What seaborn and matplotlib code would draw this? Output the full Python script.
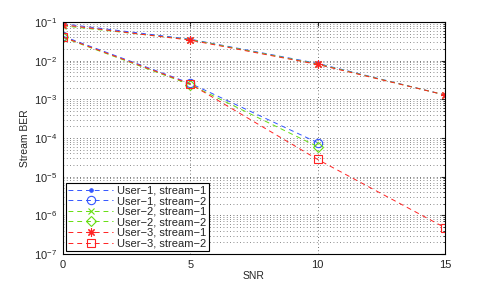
import matplotlib
matplotlib.use("Agg")
import matplotlib.pyplot as plt
import seaborn as sns
import numpy as np
import pandas as pd
from matplotlib.ticker import FixedLocator, NullFormatter, LogFormatterMathtext

snr_s1 = [0, 5, 10, 15]
u1_s1 = [0.090, 0.036, 0.0085, 0.0013]
u2_s1 = [0.080, 0.035, 0.0082, 0.0013]
u3_s1 = [0.085, 0.034, 0.0080, 0.0013]

snr_s2_short = [0, 5, 10]
u1_s2 = [0.043, 0.0026, 7.6e-5]
u2_s2 = [0.040, 0.0024, 6.0e-5]
snr_s2_long = [0, 5, 10, 15]
u3_s2 = [0.041, 0.0025, 2.8e-5, 4.8e-7]

x_ticks = [0, 5, 10, 15]
y_ticks = [1e-7, 1e-6, 1e-5, 1e-4, 1e-3, 1e-2, 1e-1]

labels = ["User\u22121, stream\u22121", "User\u22121, stream\u22122",
          "User\u22122, stream\u22121", "User\u22122, stream\u22122",
          "User\u22123, stream\u22121", "User\u22123, stream\u22122"]

blue = "#3355ff"
green = "#66dd11"
red = "#ff2222"

series = [
    (snr_s1, u1_s1, labels[0], blue, ".", True, 5),
    (snr_s2_short, u1_s2, labels[1], blue, "o", False, 6),
    (snr_s1, u2_s1, labels[2], green, "x", True, 4.5),
    (snr_s2_short, u2_s2, labels[3], green, "D", False, 5.5),
    (snr_s1, u3_s1, labels[4], red, (8, 2, 0), True, 6),
    (snr_s2_long, u3_s2, labels[5], red, "s", False, 5.5),
]

sns.set_style("white")
plt.rcParams['font.family'] = ['Liberation Sans', 'DejaVu Sans']
plt.rcParams['mathtext.fontset'] = 'custom'
plt.rcParams['mathtext.rm'] = 'Liberation Sans'

fig = plt.figure(figsize=(4.91, 2.86), dpi=100)
ax = fig.add_axes([0.128, 0.112, 0.778, 0.811])

for x, y, lab, col, mk, filled, ms in series:
    df = pd.DataFrame({"SNR": x, "BER": y})
    sns.lineplot(data=df, x="SNR", y="BER", ax=ax, color=col, marker=mk,
                 linestyle=(0, (5, 4)), linewidth=0.7, label=lab,
                 markersize=ms,
                 markerfacecolor=(col if filled else "none"),
                 markeredgecolor=col, markeredgewidth=0.8)

ax.set_yscale("log")
ax.set_xlim(0, 15)
ax.set_ylim(1e-7, 1e-1)
ax.set_xticks(x_ticks)
ax.yaxis.set_major_locator(FixedLocator(y_ticks))
ax.yaxis.set_major_formatter(LogFormatterMathtext())
minor = [m * d for d in y_ticks[:-1] for m in range(2, 10)]
ax.yaxis.set_minor_locator(FixedLocator(minor))
ax.yaxis.set_minor_formatter(NullFormatter())

ax.grid(True, which="major", axis="both", color="#444444", linestyle=(0, (1, 3)), linewidth=0.6)
ax.grid(True, which="minor", axis="y", color="#666666", linestyle=(0, (1, 3)), linewidth=0.6)

ax.tick_params(axis="both", which="both", direction="in", labelsize=8, length=3,
               top=True, right=True, pad=4)
ax.tick_params(which="minor", length=1.5)
for s in ax.spines.values():
    s.set_color("black")
    s.set_linewidth(0.8)

ax.set_xlabel("SNR", fontsize=7.5, labelpad=1)
ax.set_ylabel("Stream BER", fontsize=7.5, labelpad=3)

leg = ax.legend(loc="lower left", fontsize=8, frameon=True, fancybox=False,
                edgecolor="black", framealpha=1, borderpad=0.2, labelspacing=0.05,
                handlelength=4.0, handletextpad=0.4, borderaxespad=0.3)
leg.get_frame().set_linewidth(0.8)

fig.savefig("out.png", dpi=100)
